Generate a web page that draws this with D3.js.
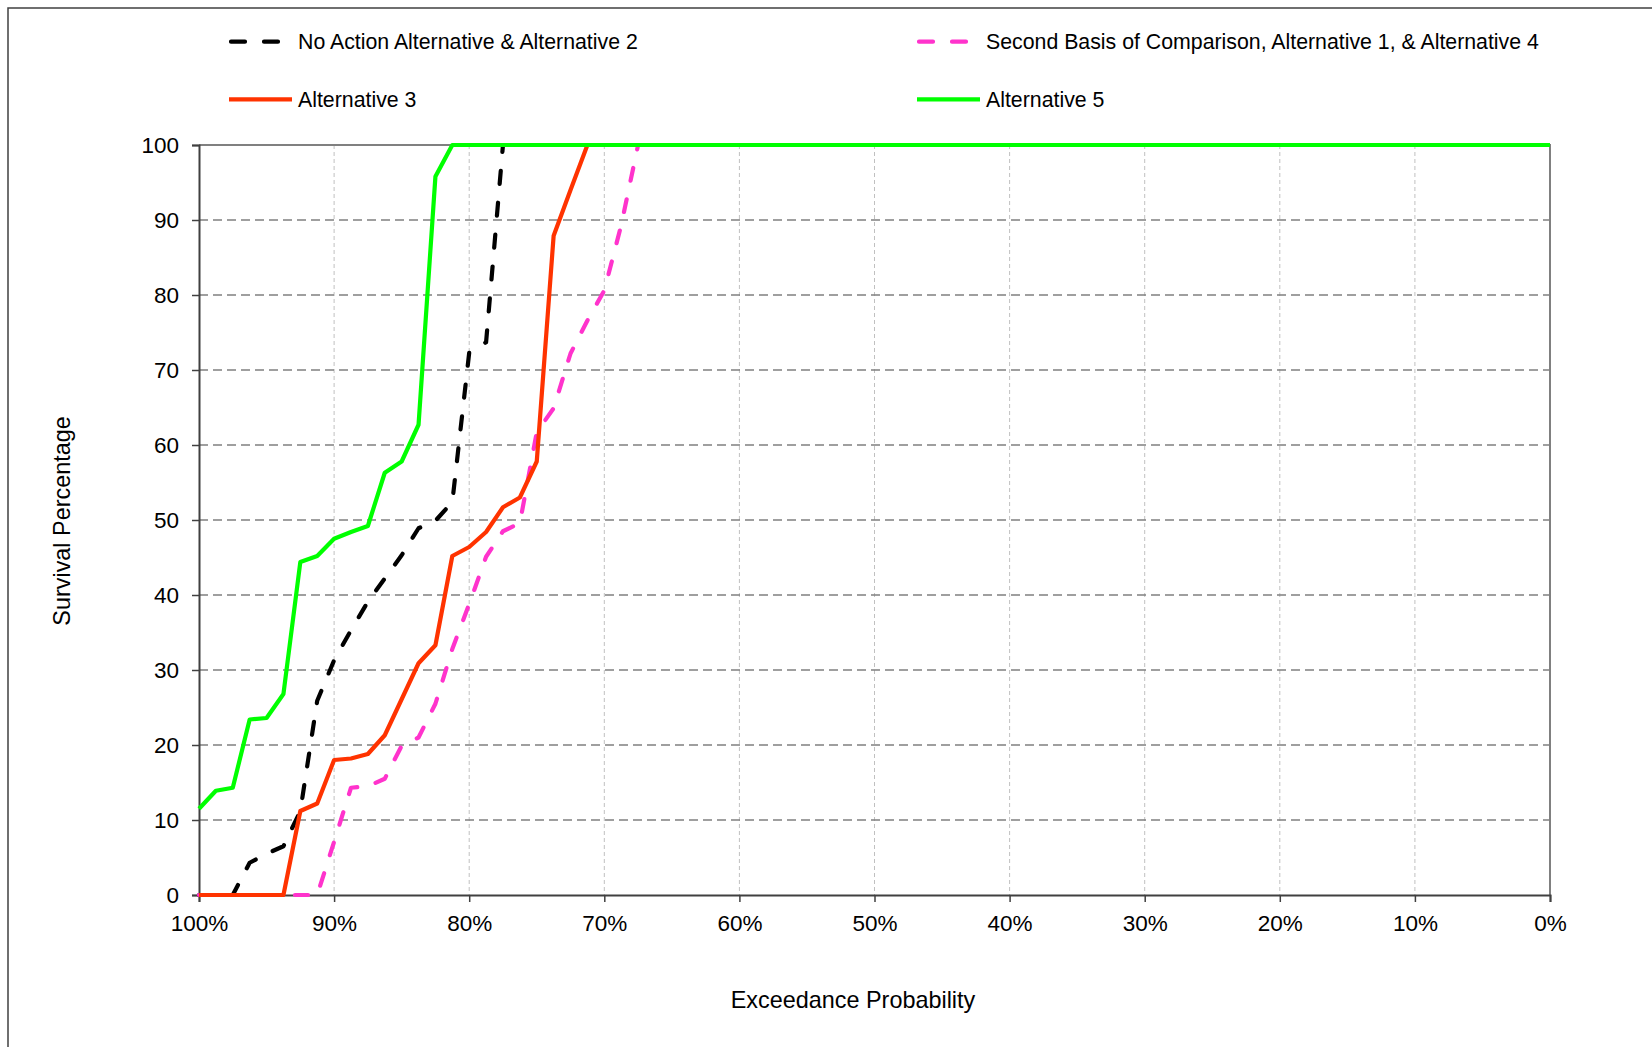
<!DOCTYPE html>
<html>
<head>
<meta charset="utf-8">
<script src="https://cdn.jsdelivr.net/npm/d3@7"></script>
<style>
    html, body { margin: 0; padding: 0; background: #fff; }
    svg { display: block; font-family: "Liberation Sans", Arial, sans-serif; }
</style>
</head>
<body>
<svg id="chart" width="1652" height="1047"></svg>
<script>
// =============================
// Data
// =============================

const exceedance = [100, 98.75, 97.5, 96.25, 95, 93.75, 92.5, 91.25, 90, 88.75, 87.5, 86.25, 85,
    83.75, 82.5, 81.25, 80, 78.75, 77.5, 76.25, 75, 73.75, 72.5, 71.25, 70, 68.75, 67.5, 0];

const noAction = [0, 0, 0, 4.3, 5.5, 6.5, 11.2, 25.9, 31.3, 35.3, 39.1, 42.2, 45.3, 48.9,
    49.9, 52.4, 72.3, 73.7, 100, 100, 100, 100, 100, 100, 100, 100, 100, 100];

const secondBasis = [0, 0, 0, 0, 0, 0, 0, 0, 7.1, 14.3, 14.5, 15.5, 19.9, 21.0,
    25.5, 32.8, 38.8, 45.1, 48.5, 49.6, 61.7, 64.9, 72.2, 76.6, 80.6, 89.3, 100, 100];

const alt3 = [0, 0, 0, 0, 0, 0, 11.2, 12.2, 18.0, 18.2, 18.8, 21.3, 26.1, 30.9,
    33.3, 45.2, 46.4, 48.4, 51.7, 53.0, 57.8, 87.9, 94.0, 100, 100, 100, 100, 100];

const alt5 = [11.5, 13.9, 14.3, 23.4, 23.6, 26.8, 44.4, 45.2, 47.5, 48.4, 49.2, 56.3, 57.8, 62.7,
    95.8, 100, 100, 100, 100, 100, 100, 100, 100, 100, 100, 100, 100, 100];

const seriesNames = [
    "No Action Alternative & Alternative 2",
    "Second Basis of Comparison, Alternative 1, & Alternative 4",
    "Alternative 3",
    "Alternative 5"
];
const seriesColors = ["#000000", "#ff33cc", "#ff3300", "#00ff00"];
const seriesDashed = [true, true, false, false];
const seriesValues = [noAction, secondBasis, alt3, alt5];

const xTicks = [100, 90, 80, 70, 60, 50, 40, 30, 20, 10, 0];
const yTicks = [0, 10, 20, 30, 40, 50, 60, 70, 80, 90, 100];

// =============================
// Layout
// =============================

const svg = d3.select("#chart");
const plot = { left: 199, right: 1550, top: 145, bottom: 895 };

const x = d3.scaleLinear().domain([100, 0]).range([plot.left, plot.right]);
const y = d3.scaleLinear().domain([0, 100]).range([plot.bottom, plot.top]);

// outer chart border (cropped on right and bottom)
svg.append("path")
    .attr("d", "M8,1060 L8,8 L1660,8")
    .attr("fill", "none")
    .attr("stroke", "#404040")
    .attr("stroke-width", 1.5);

// vertical gridlines
svg.append("g")
    .selectAll("line")
    .data(xTicks.filter(d => d !== 100 && d !== 0))
    .enter()
    .append("line")
    .attr("x1", d => x(d))
    .attr("x2", d => x(d))
    .attr("y1", plot.top)
    .attr("y2", plot.bottom)
    .attr("stroke", "#c0c0c0")
    .attr("stroke-width", 1)
    .attr("stroke-dasharray", "4,3");

// horizontal gridlines
svg.append("g")
    .selectAll("line")
    .data(yTicks.filter(d => d !== 0 && d !== 100))
    .enter()
    .append("line")
    .attr("x1", plot.left)
    .attr("x2", plot.right)
    .attr("y1", d => y(d))
    .attr("y2", d => y(d))
    .attr("stroke", "#808080")
    .attr("stroke-width", 1.5)
    .attr("stroke-dasharray", "9,5");

// top + right frame
svg.append("path")
    .attr("d", `M${plot.left},${plot.top} L${plot.right},${plot.top} L${plot.right},${plot.bottom}`)
    .attr("fill", "none")
    .attr("stroke", "#808080")
    .attr("stroke-width", 2);

// Axes
const yAxis = d3.axisLeft(y).tickValues(yTicks).tickSize(7).tickPadding(13);
const xAxis = d3.axisBottom(x).tickValues(xTicks).tickSize(7).tickPadding(12)
    .tickFormat(d => d + "%");

const gy = svg.append("g")
    .attr("transform", `translate(${plot.left},0)`)
    .call(yAxis);
const gx = svg.append("g")
    .attr("transform", `translate(0,${plot.bottom})`)
    .call(xAxis);

[gx, gy].forEach(g => {
    g.select(".domain").attr("stroke", "#404040").attr("stroke-width", 2);
    g.selectAll(".tick line").attr("stroke", "#404040").attr("stroke-width", 1.5);
    g.selectAll(".tick text")
        .attr("fill", "#000")
        .attr("font-size", "22.5px")
        .attr("font-family", "'Liberation Sans', Arial, sans-serif");
});
gx.selectAll(".tick text").attr("dy", null).attr("y", 36);

// Axis titles
svg.append("text")
    .attr("x", 853)
    .attr("y", 1008)
    .attr("text-anchor", "middle")
    .attr("font-size", "23.4px")
    .text("Exceedance Probability");

svg.append("text")
    .attr("transform", "translate(70,521) rotate(-90)")
    .attr("text-anchor", "middle")
    .attr("font-size", "23.4px")
    .text("Survival Percentage");

// =============================
// Series lines
// =============================

const line = d3.line()
    .x((d, i) => x(exceedance[i]))
    .y(d => y(d));

seriesValues.forEach((vals, s) => {
    svg.append("path")
        .datum(vals)
        .attr("d", line)
        .attr("fill", "none")
        .attr("stroke", seriesColors[s])
        .attr("stroke-width", 4.2)
        .attr("stroke-linejoin", "round")
        .attr("stroke-linecap", seriesDashed[s] ? "round" : "butt")
        .attr("stroke-dasharray", seriesDashed[s] ? "13,19" : null);
});

// =============================
// Legend
// =============================

const legendCols = [229, 917];
const legendRows = [41.7, 99.3];

const legend = svg.append("g")
    .selectAll("g")
    .data(seriesNames)
    .enter()
    .append("g")
    .attr("transform", (d, i) => `translate(${legendCols[i % 2]},${legendRows[Math.floor(i / 2)]})`);

legend.append("line")
    .attr("x1", (d, i) => seriesDashed[i] ? 2 : 0)
    .attr("x2", (d, i) => seriesDashed[i] ? 49 : 63)
    .attr("y1", 0)
    .attr("y2", 0)
    .attr("stroke", (d, i) => seriesColors[i])
    .attr("stroke-width", 4.2)
    .attr("stroke-linecap", (d, i) => seriesDashed[i] ? "round" : "butt")
    .attr("stroke-dasharray", (d, i) => seriesDashed[i] ? "14,19" : null);

legend.append("text")
    .attr("x", 69)
    .attr("y", 0)
    .attr("dy", "0.36em")
    .attr("font-size", "21.3px")
    .attr("fill", "#000")
    .text(d => d);
</script>
</body>
</html>
